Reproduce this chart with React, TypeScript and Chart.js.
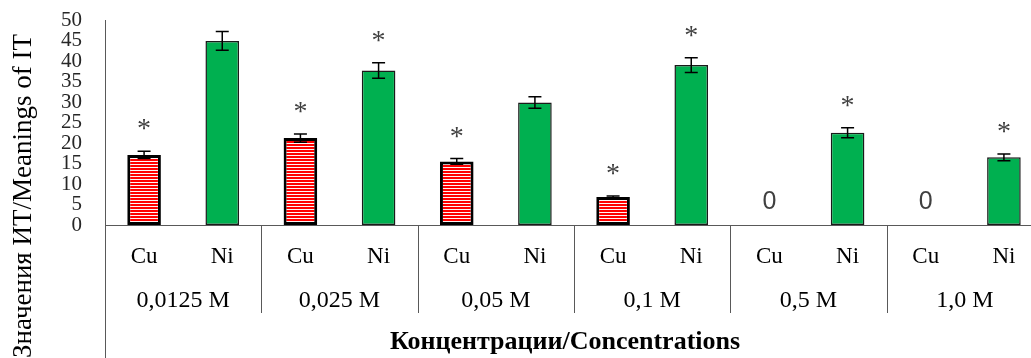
import React, { useEffect, useRef } from "react";
import { Chart, registerables } from "chart.js";

Chart.register(...registerables);

const concentrations = ["0,0125 M", "0,025 M", "0,05 M", "0,1 M", "0,5 M", "1,0 M"];
const metals = ["Cu", "Ni"];
const cuValues = [17.1, 21.2, 15.5, 6.8, 0, 0];
const cuErrors = [0.9, 1.0, 0.7, 0.3, 0, 0];
const niValues = [44.9, 37.7, 29.9, 39.0, 22.5, 16.5];
const niErrors = [2.3, 1.9, 1.4, 1.8, 1.2, 0.8];
const cuSignificant = [true, true, true, true, false, false];
const niSignificant = [false, true, false, true, true, true];
const yMin = 0;
const yMax = 50;
const yStep = 5;
const yTitle = "Значения ИТ/Meanings of IT";
const xTitle = "Концентрации/Concentrations";

const SERIF = '"Liberation Serif", "Times New Roman", serif';
const SANS = '"Liberation Sans", Arial, sans-serif';

function makeStripePattern(): CanvasPattern | string {
  const c = document.createElement("canvas");
  c.width = 4;
  c.height = 3;
  const g = c.getContext("2d");
  if (!g) return "#ff0000";
  g.fillStyle = "#ff0000";
  g.fillRect(0, 0, 4, 2);
  g.fillStyle = "#fff4f4";
  g.fillRect(0, 2, 4, 1);
  return g.createPattern(c, "repeat") || "#ff0000";
}

export default function App() {
  const ref = useRef<HTMLCanvasElement | null>(null);

  useEffect(() => {
    const canvas = ref.current;
    if (!canvas) return;
    const labels = concentrations.flatMap(() => metals);
    const cuData = concentrations.flatMap((_, i) => [cuValues[i] === 0 ? null : cuValues[i], null]);
    const niData = concentrations.flatMap((_, i) => [null, niValues[i]]);
    const errs = [cuErrors, niErrors];
    const vals = [cuValues, niValues];
    const sig = [cuSignificant, niSignificant];

    const deco = {
      id: "deco",
      afterDatasetsDraw(chart: any) {
        const ctx = chart.ctx;
        const ys = chart.scales.y;
        ctx.save();
        for (let d = 0; d < 2; d++) {
          concentrations.forEach((_, i) => {
            const idx = i * 2 + d;
            const v = vals[d][i];
            const e = errs[d][i];
            const x = chart.scales.x.getPixelForValue(idx);
            if (v > 0 && e > 0) {
              const yTop = ys.getPixelForValue(v + e);
              const yBot = ys.getPixelForValue(v - e);
              ctx.strokeStyle = "#000";
              ctx.lineWidth = 1.5;
              ctx.beginPath();
              ctx.moveTo(x, yTop);
              ctx.lineTo(x, yBot);
              ctx.moveTo(x - 6.5, yTop);
              ctx.lineTo(x + 6.5, yTop);
              ctx.moveTo(x - 6.5, yBot);
              ctx.lineTo(x + 6.5, yBot);
              ctx.stroke();
            }
            if (sig[d][i]) {
              const yTop = ys.getPixelForValue(v + e);
              const cy = yTop - 27;
              ctx.fillStyle = "#404040";
              ctx.font = `28px ${SERIF}`;
              ctx.textAlign = "center";
              ctx.textBaseline = "alphabetic";
              ctx.fillText("*", x, cy + 0.47 * 28);
            }
            if (d === 0 && v === 0) {
              ctx.fillStyle = "#404040";
              ctx.font = `25px ${SANS}`;
              ctx.textAlign = "center";
              ctx.textBaseline = "alphabetic";
              ctx.fillText("0", x, ys.getPixelForValue(0) - 16);
            }
          });
        }
        ctx.restore();
      },
      afterDraw(chart: any) {
        const ctx = chart.ctx;
        const xs = chart.scales.x;
        const area = chart.chartArea;
        ctx.save();
        ctx.strokeStyle = "#595959";
        ctx.lineWidth = 1;
        ctx.beginPath();
        const lx = Math.round(area.left) + 0.5;
        ctx.moveTo(lx, area.bottom);
        ctx.lineTo(lx, 358);
        for (let i = 1; i < concentrations.length; i++) {
          const sx = Math.round((xs.getPixelForValue(2 * i - 1) + xs.getPixelForValue(2 * i)) / 2) + 0.5;
          ctx.moveTo(sx, area.bottom);
          ctx.lineTo(sx, 313);
        }
        ctx.stroke();

        ctx.fillStyle = "#000";
        ctx.font = `24px ${SERIF}`;
        ctx.textAlign = "center";
        ctx.textBaseline = "alphabetic";
        concentrations.forEach((c, i) => {
          const cx = (xs.getPixelForValue(2 * i) + xs.getPixelForValue(2 * i + 1)) / 2;
          ctx.fillText(c, cx, 307);
        });

        ctx.font = `bold 26px ${SERIF}`;
        ctx.fillText(xTitle, 565, 349);

        ctx.save();
        ctx.translate(31, 196);
        ctx.rotate(-Math.PI / 2);
        ctx.font = `27px ${SERIF}`;
        ctx.textAlign = "center";
        ctx.textBaseline = "alphabetic";
        ctx.fillText(yTitle, 0, 0);
        ctx.restore();
        ctx.restore();
      },
    };

    const chart = new Chart(canvas, {
      type: "bar",
      data: {
        labels,
        datasets: [
          {
            label: "Cu",
            data: cuData,
            backgroundColor: makeStripePattern() as any,
            borderColor: "#000000",
            borderWidth: 3,
            borderSkipped: false,
          },
          {
            label: "Ni",
            data: niData,
            backgroundColor: "#00b050",
            borderColor: "#1a1a1a",
            borderWidth: 1.5,
            borderSkipped: false,
          },
        ],
      },
      options: {
        responsive: false,
        animation: false,
        devicePixelRatio: 1,
        grouped: false,
        barPercentage: 0.43,
        categoryPercentage: 1,
        layout: { padding: { top: 20, left: 0, right: 2, bottom: 0 } },
        plugins: { legend: { display: false }, tooltip: { enabled: false }, title: { display: false } },
        scales: {
          x: {
            type: "category",
            offset: true,
            grid: { display: false, drawTicks: false },
            border: { display: true, color: "#595959", width: 1 },
            ticks: { font: { family: SERIF, size: 23 }, color: "#000", padding: 18, maxRotation: 0, autoSkip: false },
            afterFit: (s: any) => {
              s.height = 133;
              s.paddingLeft = 0;
              s.paddingRight = 0;
            },
          },
          y: {
            min: yMin,
            max: yMax,
            grid: { display: false, drawTicks: false },
            border: { display: true, color: "#595959", width: 1 },
            ticks: {
              stepSize: yStep,
              autoSkip: false,
              font: { family: SERIF, size: 21 },
              color: "#262626",
              padding: 23,
            },
            afterFit: (s: any) => {
              s.width = 105;
              s.paddingTop = 0;
              s.paddingBottom = 0;
            },
          },
        },
      } as any,
      plugins: [deco],
    });
    return () => chart.destroy();
  }, []);

  return (
    <div
      style={{
        position: "fixed",
        left: 0,
        top: 0,
        width: 1031,
        height: 358,
        overflow: "hidden",
        background: "#fff",
      }}
    >
      <canvas ref={ref} width={1045} height={358} style={{ display: "block" }} />
    </div>
  );
}
